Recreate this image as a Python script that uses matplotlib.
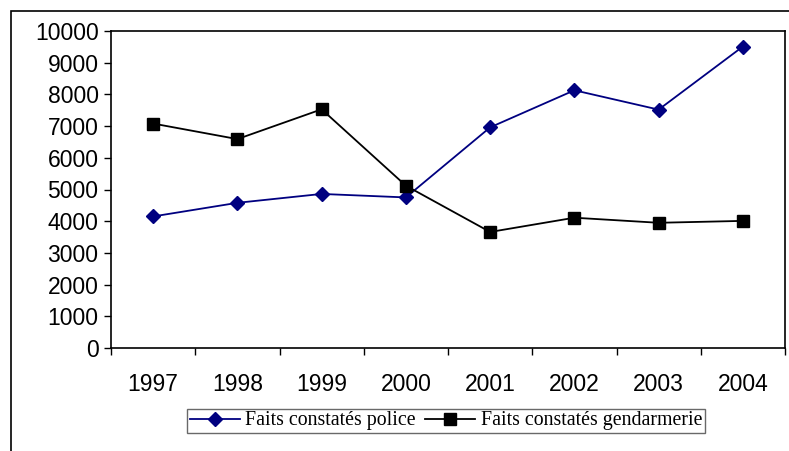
import numpy as np
import matplotlib.pyplot as plt
from matplotlib.patches import Rectangle

years = ["1997", "1998", "1999", "2000", "2001", "2002", "2003", "2004"]
police = [4150, 4580, 4860, 4750, 6960, 8130, 7520, 9510]
gendarmerie = [7080, 6590, 7530, 5120, 3660, 4110, 3950, 4010]

W, H = 789, 451
fig = plt.figure(figsize=(W / 100, H / 100), dpi=100)

# outer chart frame (cut off on right and bottom, like the source)
fig.patches.append(Rectangle((11 / W, -0.1), 1.0, (H - 11) / H + 0.1,
                             transform=fig.transFigure, fill=False,
                             edgecolor="black", linewidth=1.2))

ax = fig.add_axes([111 / W, (H - 348) / H, 674 / W, 317 / H])

x = np.arange(len(years))
ax.plot(x, police, color="#000080", marker="D", markersize=7.5, linewidth=1.3,
        label="Faits constatés police")
ax.plot(x, gendarmerie, color="black", marker="s", markersize=8, linewidth=1.3,
        label="Faits constatés gendarmerie")

ax.set_xlim(-0.5, len(years) - 0.5)
ax.set_ylim(0, 10000)
ax.set_yticks(np.arange(0, 10001, 1000))

# Excel style: tick marks between categories, labels centred
ax.set_xticks(np.arange(-0.5, len(years), 1.0))
ax.set_xticklabels([])
ax.set_xticks(x, minor=True)
ax.set_xticklabels(years, minor=True)
ax.tick_params(axis="x", which="minor", length=0, pad=18)
ax.tick_params(axis="x", which="major", length=5, direction="out", width=1)
ax.tick_params(axis="y", length=5, direction="out", width=1, pad=4)

for lab in ax.get_xticklabels(minor=True) + ax.get_yticklabels():
    lab.set_fontfamily("Liberation Sans")
    lab.set_fontsize(16.5)

for sp in ax.spines.values():
    sp.set_color("black")
    sp.set_linewidth(1.2)

leg = fig.legend(loc="center", bbox_to_anchor=(446 / W, (H - 421) / H), ncol=2,
                 prop={"family": "Liberation Serif", "size": 14.3},
                 frameon=True, fancybox=False, edgecolor="#444444",
                 handlelength=2.5, handletextpad=0.3, columnspacing=0.45,
                 borderpad=0.15, borderaxespad=0)
leg.get_frame().set_linewidth(1.0)

plt.savefig("out.png", dpi=100)
